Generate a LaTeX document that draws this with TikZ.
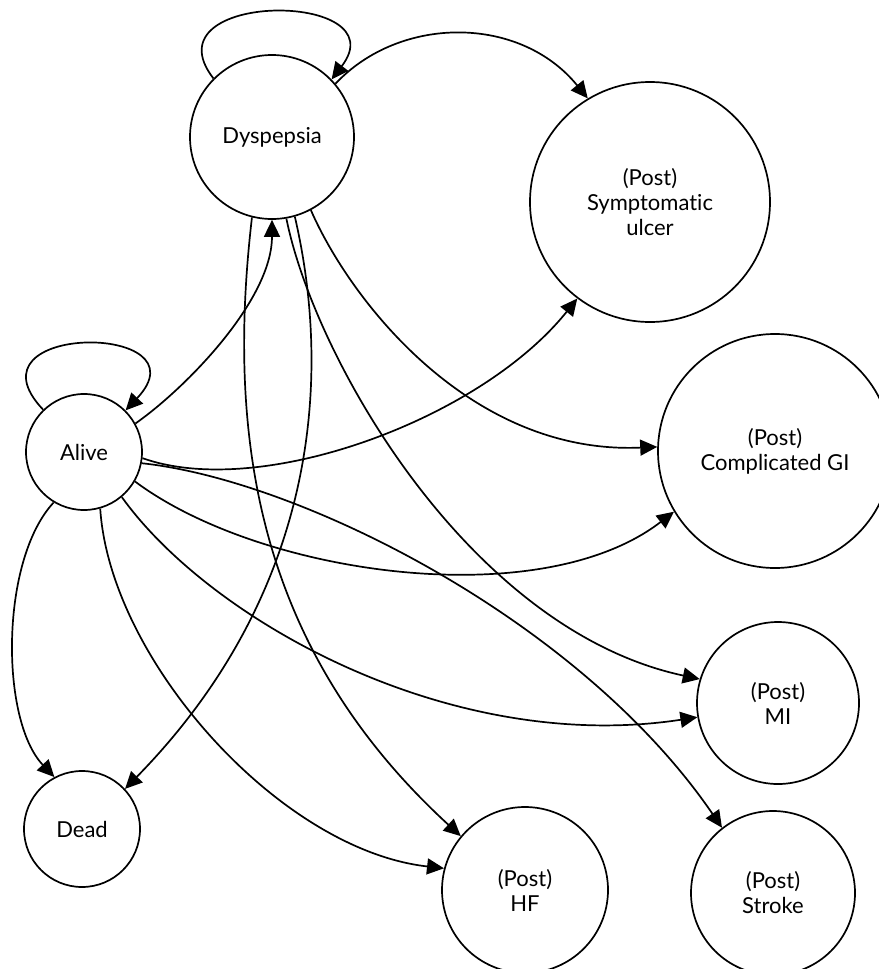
\documentclass[tikz,border=0pt]{standalone}
\usepackage{fontspec}
\setmainfont{Lato}[Ligatures={NoCommon,NoRare}]
\usetikzlibrary{arrows.meta}
\begin{document}
\begin{tikzpicture}[x=1pt,y=-1pt,
  st/.style={circle,draw,line width=1.7pt,inner sep=0pt,align=center,
    font=\fontsize{22}{25}\selectfont},
  edge/.style={line width=1.7pt,-{Triangle[length=17pt,width=16pt]}}]
\useasboundingbox[fill=white] (0,0) rectangle (878,969);
\node[st,minimum size=164pt] (dys) at (272,137) {Dyspepsia};
\node[st,minimum size=240pt] (sym) at (650,202) {(Post)\\Symptomatic\\ulcer};
\node[st,minimum size=234pt] (cgi) at (775,451) {(Post)\\Complicated GI};
\node[st,minimum size=162pt] (mi) at (778,703) {(Post)\\MI};
\node[st,minimum size=164pt] (str) at (773,893) {(Post)\\Stroke};
\node[st,minimum size=166pt] (hf) at (525,890) {(Post)\\HF};
\node[st,minimum size=116pt] (dead) at (82,829) {Dead};
\node[st,minimum size=116pt] (alive) at (84,452) {Alive};
% Dyspepsia edges
\draw[edge] (dys.135) .. controls (145,-10) and (400,-10) .. (dys.44);
\draw[edge] (dys.40) .. controls (400,15) and (520,15) .. (sym.121);
\draw[edge] (dys.-104) .. controls (226,440) and (258,650) .. (hf.140);
\draw[edge] (dys.-74) .. controls (335,390) and (310,600) .. (dead.43);
\draw[edge] (dys.-80) .. controls (315,360) and (470,630) .. (mi.163);
\draw[edge] (dys.-62) .. controls (350,300) and (470,455) .. (cgi.178);
% Alive edges
\draw[edge] (alive.134) .. controls (-40,322) and (209,322) .. (alive.45);
\draw[edge] (alive.29) .. controls (186,388) and (272,300) .. (dys.-90);
\draw[edge] (alive.-6) .. controls (260,500) and (480,420) .. (sym.233);
\draw[edge] (alive.-30) .. controls (260,575) and (540,615) .. (cgi.211);
\draw[edge] (alive.-50) .. controls (210,620) and (450,755) .. (mi.190);
\draw[edge] (alive.-74) .. controls (110,660) and (280,850) .. (hf.165);
\draw[edge] (alive.-121) .. controls (0,560) and (0,720) .. (dead.118);
\draw[edge] (alive.-11) .. controls (300,480) and (580,620) .. (str.128);
\end{tikzpicture}
\end{document}
